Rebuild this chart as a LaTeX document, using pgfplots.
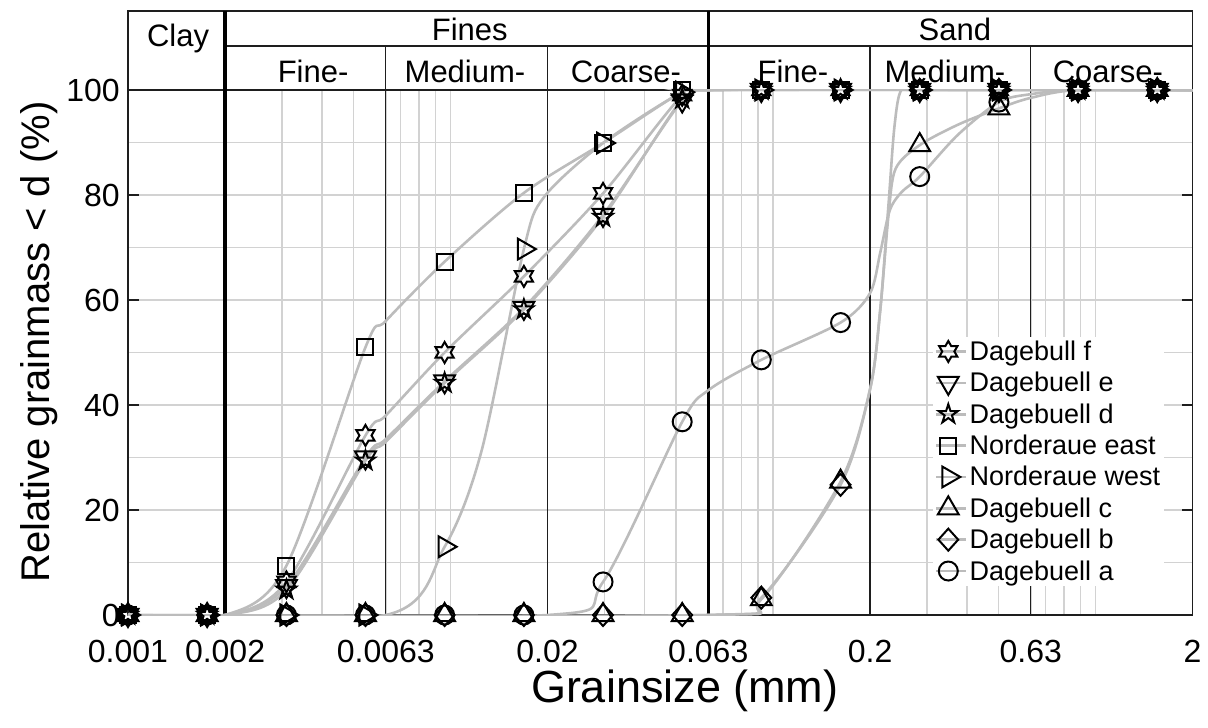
\documentclass[border=0pt]{standalone}
\usepackage{fontspec}
\setmainfont{Liberation Sans}
\usepackage{pgfplots}
\pgfplotsset{compat=1.18}
\definecolor{gridc}{RGB}{210,210,210}
\definecolor{curvec}{RGB}{188,188,188}
\definecolor{framec}{RGB}{30,30,30}
\newcommand\ticksz{\fontsize{32}{38}\selectfont}
\newcommand\hdrsz{\fontsize{31}{37}\selectfont}
\newcommand\labsz{\fontsize{45}{52}\selectfont}
\newcommand\ylabsz{\fontsize{40}{46}\selectfont}
\newcommand\legsz{\fontsize{27}{31}\selectfont}

\pgfdeclareplotmark{hexagram}{%
  \pgfpathmoveto{\pgfpointpolar{90}{\pgfplotmarksize}}%
  \pgfpathlineto{\pgfpointpolar{120}{0.577\pgfplotmarksize}}%
  \pgfpathlineto{\pgfpointpolar{150}{\pgfplotmarksize}}%
  \pgfpathlineto{\pgfpointpolar{180}{0.577\pgfplotmarksize}}%
  \pgfpathlineto{\pgfpointpolar{210}{\pgfplotmarksize}}%
  \pgfpathlineto{\pgfpointpolar{240}{0.577\pgfplotmarksize}}%
  \pgfpathlineto{\pgfpointpolar{270}{\pgfplotmarksize}}%
  \pgfpathlineto{\pgfpointpolar{300}{0.577\pgfplotmarksize}}%
  \pgfpathlineto{\pgfpointpolar{330}{\pgfplotmarksize}}%
  \pgfpathlineto{\pgfpointpolar{0}{0.577\pgfplotmarksize}}%
  \pgfpathlineto{\pgfpointpolar{30}{\pgfplotmarksize}}%
  \pgfpathlineto{\pgfpointpolar{60}{0.577\pgfplotmarksize}}%
  \pgfpathclose
  \pgfusepathqstroke}
\pgfdeclareplotmark{pentagram}{%
  \pgfpathmoveto{\pgfpointpolar{90}{\pgfplotmarksize}}%
  \pgfpathlineto{\pgfpointpolar{126}{0.382\pgfplotmarksize}}%
  \pgfpathlineto{\pgfpointpolar{162}{\pgfplotmarksize}}%
  \pgfpathlineto{\pgfpointpolar{198}{0.382\pgfplotmarksize}}%
  \pgfpathlineto{\pgfpointpolar{234}{\pgfplotmarksize}}%
  \pgfpathlineto{\pgfpointpolar{270}{0.382\pgfplotmarksize}}%
  \pgfpathlineto{\pgfpointpolar{306}{\pgfplotmarksize}}%
  \pgfpathlineto{\pgfpointpolar{342}{0.382\pgfplotmarksize}}%
  \pgfpathlineto{\pgfpointpolar{18}{\pgfplotmarksize}}%
  \pgfpathlineto{\pgfpointpolar{54}{0.382\pgfplotmarksize}}%
  \pgfpathclose
  \pgfusepathqstroke}

\pgfplotsset{
  curve/.style={curvec, line width=2.6pt, smooth, tension=0.5, forget plot},
  mk/.style={only marks, mark options={black, line width=2pt, solid, fill=none},
    legend image code/.code={%
      \draw[curvec, line width=2.6pt] (0pt,0pt) -- (30pt,0pt);
      \draw plot coordinates {(12pt,0pt)};}},
}

\begin{document}
\begin{tikzpicture}
\begin{axis}[
  scale only axis, width=1064.6pt, height=525pt,
  xmode=log, xmin=0.001, xmax=2, ymin=0, ymax=100,
  clip mode=individual,
  xtick={0.001,0.002,0.0063,0.02,0.063,0.2,0.63,2},
  xticklabels={0.001,0.002,0.0063,0.02,0.063,0.2,0.63,2},
  minor xtick={0.003,0.004,0.005,0.007,0.008,0.009,0.01,0.03,0.04,0.05,0.07,0.08,0.09,0.1,0.3,0.4,0.5,0.7,0.8,0.9,1},
  ytick={0,20,40,60,80,100},
  minor ytick={10,30,50,70,90},
  grid=both,
  major grid style={gridc, line width=1.5pt},
  minor grid style={gridc, line width=1.5pt},
  tick align=inside, xtick pos=left, ytick pos=both,
  major tick length=11pt, minor tick length=0pt,
  every tick/.style={framec, line width=1.3pt},
  axis line style={framec, line width=1.5pt},
  tick label style={font=\ticksz, /pgf/number format/assume math mode=true, inner sep=0pt},
  yticklabel style={xshift=-8pt},
  xticklabel style={yshift=-25pt},
  xlabel={Grainsize (mm)},
  ylabel={Relative grainmass < d (\%)},
  xlabel style={font=\labsz, at={(axis description cs:0.523,-0.166)}, anchor=base},
  ylabel style={font=\ylabsz, at={(axis description cs:-0.083,0.52)}, anchor=center},
  legend style={at={(axis description cs:0.756,0.53)}, anchor=north west,
    fill=white, draw=none, font=\legsz, row sep=6.3pt, inner sep=2pt},
  legend cell align=left,
]
% class boundaries and header
\draw[framec, line width=1.3pt] (axis cs:0.0063,0) -- (axis cs:0.0063,108.4);
\draw[framec, line width=1.3pt] (axis cs:0.02,0) -- (axis cs:0.02,108.4);
\draw[framec, line width=1.3pt] (axis cs:0.2,0) -- (axis cs:0.2,108.4);
\draw[framec, line width=1.3pt] (axis cs:0.63,0) -- (axis cs:0.63,108.4);
\draw[framec, line width=1.3pt] (axis cs:0.002,108.4) -- (axis cs:2,108.4);
\draw[framec, line width=1.5pt] (axis cs:0.001,100) -- (axis cs:0.001,115) -- (axis cs:2,115) -- (axis cs:2,100);
\draw[black, line width=3.5pt] (axis cs:0.002,0) -- (axis cs:0.002,115);
\draw[black, line width=3.5pt] (axis cs:0.063,0) -- (axis cs:0.063,115);
\node[anchor=base, font=\hdrsz, inner sep=0pt] at (axis cs:0.00143,108.2) {Clay};
\node[anchor=base, font=\hdrsz, inner sep=0pt] at (axis cs:0.01148,109.5) {Fines};
\node[anchor=base, font=\hdrsz, inner sep=0pt] at (axis cs:0.3666,109.5) {Sand};
\node[anchor=base, font=\hdrsz, inner sep=0pt] at (axis cs:0.00375,101.4) {Fine-};
\node[anchor=base, font=\hdrsz, inner sep=0pt] at (axis cs:0.01109,101.4) {Medium-};
\node[anchor=base, font=\hdrsz, inner sep=0pt] at (axis cs:0.035,101.4) {Coarse-};
\node[anchor=base, font=\hdrsz, inner sep=0pt] at (axis cs:0.1153,101.4) {Fine-};
\node[anchor=base, font=\hdrsz, inner sep=0pt] at (axis cs:0.3412,101.4) {Medium-};
\node[anchor=base, font=\hdrsz, inner sep=0pt] at (axis cs:1.093,101.4) {Coarse-};

% curves
\addplot[curve] coordinates {(0.001,0)(0.002,0)(0.0031,6.3)(0.00545,34.2)(0.0063,38)(0.00959,50)(0.01689,64.5)(0.02972,80.3)(0.0523,99)(0.063,100)(2,100)};
\addplot[curve] coordinates {(0.001,0)(0.002,0)(0.0031,5.5)(0.00545,30)(0.0063,33.5)(0.00959,44.5)(0.01689,58.5)(0.02972,76.2)(0.0523,98)(0.063,100)(2,100)};
\addplot[curve] coordinates {(0.001,0)(0.002,0)(0.0031,4.8)(0.00545,29.4)(0.0063,33)(0.00959,44.2)(0.01689,58.2)(0.02972,75.8)(0.0523,98.3)(0.063,100)(2,100)};
\addplot[curve] coordinates {(0.001,0)(0.002,0)(0.0031,9.4)(0.00545,51)(0.0063,56)(0.00959,67.3)(0.01689,80.4)(0.02972,89.9)(0.0523,99.6)(0.063,100)(2,100)};
\addplot[curve] coordinates {(0.001,0)(0.0063,0)(0.00959,13)(0.0125,31.4)(0.01689,69.7)(0.0195,79.6)(0.02972,89.9)(0.0523,99.6)(0.063,100)(2,100)};
\addplot[curve] coordinates {(0.001,0)(0.063,0)(0.092,3)(0.162,25.4)(0.2,43)(0.215,58)(0.228,76)(0.24,85)(0.2851,89.5)(0.375,93.4)(0.5018,96.5)(0.63,98.5)(0.8831,100)(2,100)};
\addplot[curve] coordinates {(0.001,0)(0.063,0)(0.092,3.3)(0.162,24.8)(0.2,43)(0.215,58)(0.228,78)(0.238,93)(0.25,100)(0.2851,100)(2,100)};
\addplot[curve] coordinates {(0.001,0)(0.02,0)(0.02972,6.3)(0.0523,36.8)(0.063,42.8)(0.092,48.6)(0.162,55.7)(0.2,61.3)(0.215,69)(0.23,77)(0.25,80.5)(0.2851,83.5)(0.375,91.5)(0.5018,97.7)(0.63,99.2)(0.8831,100)(2,100)};

% markers
\addplot[mk, mark=hexagram, mark size=10.5pt] coordinates {(0.001,0)(0.00176,0)(0.0031,6.3)(0.00545,34.2)(0.00959,50)(0.01689,64.5)(0.02972,80.3)(0.0523,99)(0.092,100)(0.162,100)(0.2851,100)(0.5018,100)(0.8831,100)(1.554,100)};
\addlegendentry{Dagebull f}
\addplot[mk, mark=triangle, mark size=12pt, every mark/.append style={rotate=180}] coordinates {(0.001,0)(0.00176,0)(0.0031,5.5)(0.00545,30)(0.00959,44.5)(0.01689,58.5)(0.02972,76.2)(0.0523,98)(0.092,100)(0.162,100)(0.2851,100)(0.5018,100)(0.8831,100)(1.554,100)};
\addlegendentry{Dagebuell e}
\addplot[mk, mark=pentagram, mark size=10pt] coordinates {(0.001,0)(0.00176,0)(0.0031,4.8)(0.00545,29.4)(0.00959,44.2)(0.01689,58.2)(0.02972,75.8)(0.0523,98.3)(0.092,100)(0.162,100)(0.2851,100)(0.5018,100)(0.8831,100)(1.554,100)};
\addlegendentry{Dagebuell d}
\addplot[mk, mark=square, mark size=8pt] coordinates {(0.001,0)(0.00176,0)(0.0031,9.4)(0.00545,51)(0.00959,67.3)(0.01689,80.4)(0.02972,89.9)(0.0523,100)(0.092,100)(0.162,100)(0.2851,100)(0.5018,100)(0.8831,100)(1.554,100)};
\addlegendentry{Norderaue east}
\addplot[mk, mark=triangle, mark size=12pt, every mark/.append style={rotate=-90}] coordinates {(0.001,0)(0.00176,0)(0.0031,0)(0.00545,0)(0.00959,13)(0.01689,69.7)(0.02972,89.9)(0.0523,99.6)(0.092,100)(0.162,100)(0.2851,100)(0.5018,100)(0.8831,100)(1.554,100)};
\addlegendentry{Norderaue west}
\addplot[mk, mark=triangle, mark size=12pt] coordinates {(0.001,0)(0.00176,0)(0.0031,0)(0.00545,0)(0.00959,0)(0.01689,0)(0.02972,0)(0.0523,0)(0.092,3)(0.162,25.4)(0.2851,89.5)(0.5018,96.5)(0.8831,100)(1.554,100)};
\addlegendentry{Dagebuell c}
\addplot[mk, mark=diamond, mark size=11pt, every mark/.append style={xscale=1.2}] coordinates {(0.001,0)(0.00176,0)(0.0031,0)(0.00545,0)(0.00959,0)(0.01689,0)(0.02972,0)(0.0523,0)(0.092,3.3)(0.162,24.8)(0.2851,100)(0.5018,100)(0.8831,100)(1.554,100)};
\addlegendentry{Dagebuell b}
\addplot[mk, mark=o, mark size=9.5pt] coordinates {(0.001,0)(0.00176,0)(0.0031,0)(0.00545,0)(0.00959,0)(0.01689,0)(0.02972,6.3)(0.0523,36.8)(0.092,48.6)(0.162,55.7)(0.2851,83.5)(0.5018,97.7)(0.8831,100)(1.554,100)};
\addlegendentry{Dagebuell a}
\end{axis}
\pgfresetboundingbox
\path[use as bounding box] ([xshift=-128pt,yshift=-113pt]current axis.south west) rectangle ([xshift=1080pt,yshift=615pt]current axis.south west);
\end{tikzpicture}
\end{document}
